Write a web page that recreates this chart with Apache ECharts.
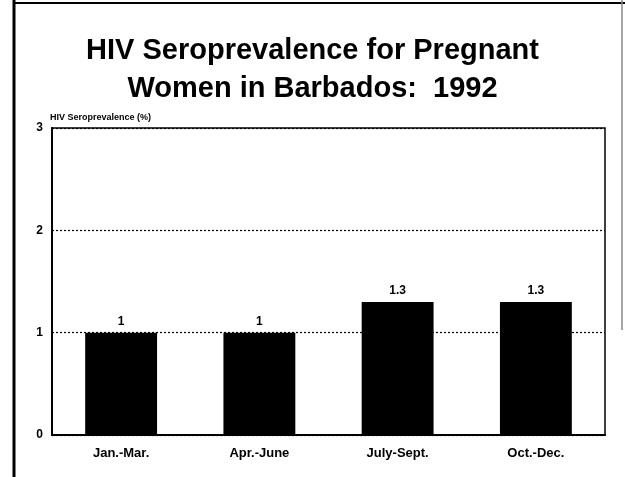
<!DOCTYPE html>
<html>
<head>
<meta charset="utf-8">
<script src="https://cdn.jsdelivr.net/npm/echarts@6/dist/echarts.min.js"></script>
<style>
  html, body { margin: 0; padding: 0; background: #fff; }
  #chart { width: 625px; height: 477px; }
</style>
</head>
<body>
<div id="chart"></div>
<script>
// Quarterly categories and values
const quarters = ['Jan.-Mar.', 'Apr.-June', 'July-Sept.', 'Oct.-Dec.'];
const seroprevalence = [1, 1, 1.3, 1.3];

const chart = echarts.init(document.getElementById('chart'));

const font = 'Liberation Sans, Arial, Helvetica, sans-serif';

const option = {
  backgroundColor: '#fff',
  animation: false,
  title: {
    text: 'HIV Seroprevalence for Pregnant\nWomen in Barbados:  1992',
    left: 'center',
    top: 27,
    textStyle: {
      fontFamily: font,
      fontWeight: 'bold',
      fontSize: 29,
      lineHeight: 38,
      color: '#000',
    },
  },
  grid: {
    left: 52,
    right: 20,
    top: 128,
    bottom: 42,
    show: true,
    borderColor: '#000',
    borderWidth: 1.5,
    containLabel: false,
  },
  xAxis: {
    type: 'category',
    data: quarters,
    axisLine: { lineStyle: { color: '#000', width: 2 } },
    axisTick: { show: false },
    axisLabel: {
      color: '#000',
      fontFamily: font,
      fontWeight: 'bold',
      fontSize: 13,
      margin: 12,
    },
  },
  yAxis: {
    type: 'value',
    min: 0,
    max: 3,
    interval: 1,
    name: 'HIV Seroprevalence (%)',
    nameLocation: 'end',
    nameGap: 6,
    nameTextStyle: {
      color: '#000',
      fontFamily: font,
      fontWeight: 'bold',
      fontSize: 9,
      align: 'left',
      padding: [0, 0, 0, -2],
    },
    axisLine: { show: true, lineStyle: { color: '#000', width: 2 } },
    axisTick: { show: false },
    axisLabel: {
      color: '#000',
      fontFamily: font,
      fontWeight: 'bold',
      fontSize: 12,
      margin: 9,
    },
    splitLine: {
      show: true,
      lineStyle: { color: '#000', type: [2, 2], width: 1.2 },
    },
  },
  series: [
    {
      type: 'bar',
      data: seroprevalence,
      barWidth: '52%',
      itemStyle: { color: '#000' },
      label: {
        show: true,
        position: 'top',
        distance: 5,
        color: '#000',
        fontFamily: font,
        fontWeight: 'bold',
        fontSize: 12,
      },
    },
  ],
  graphic: [
    // outer frame of the scanned slide
    {
      type: 'line',
      shape: { x1: 14, y1: 0, x2: 14, y2: 477 },
      style: { stroke: '#000', lineWidth: 3 },
    },
    {
      type: 'line',
      shape: { x1: 14, y1: 3, x2: 625, y2: 3 },
      style: { stroke: '#000', lineWidth: 2 },
    },
    {
      type: 'line',
      shape: { x1: 622, y1: 0, x2: 622, y2: 330 },
      style: { stroke: '#888', lineWidth: 1.5 },
    },
  ],
};

chart.setOption(option);
</script>
</body>
</html>
